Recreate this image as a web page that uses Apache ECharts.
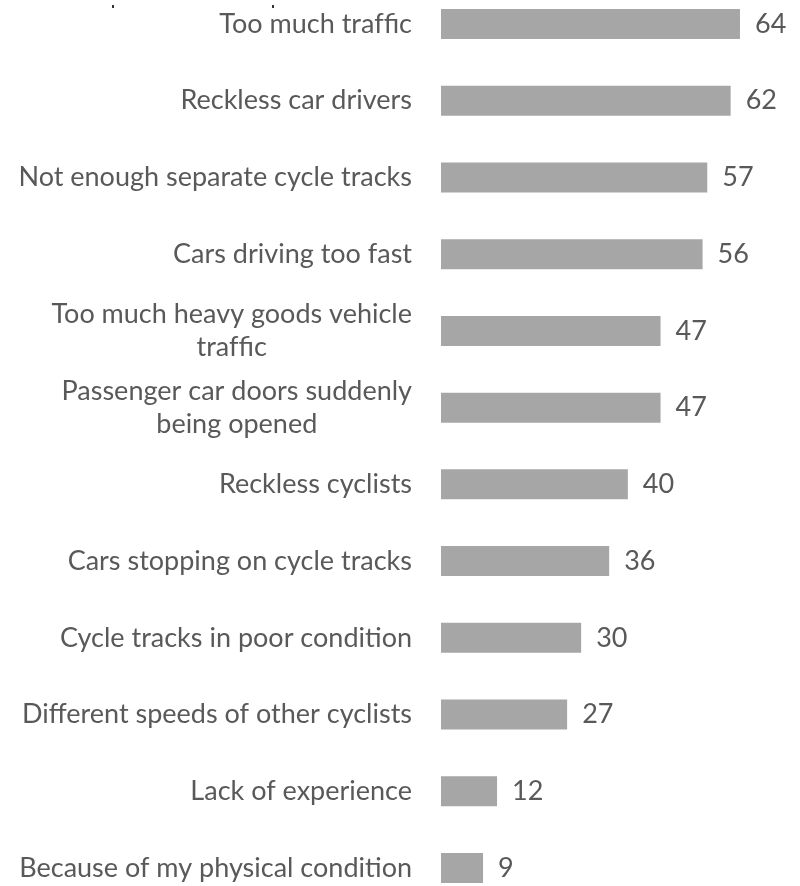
<!DOCTYPE html>
<html>
<head>
<meta charset="utf-8">
<script src="https://cdn.jsdelivr.net/npm/echarts@6/dist/echarts.min.js"></script>
<style>
  html, body { margin: 0; padding: 0; background: #ffffff; }
  #chart { width: 800px; height: 886px; }
</style>
</head>
<body>
<div id="chart"></div>
<script>
// Reasons for feeling unsafe while cycling (share of respondents)
// (a zero-width non-joiner keeps "ff"/"ffi" from turning into ligatures)
const categories = [
  'Too much traf\u200Cfic',
  'Reckless car drivers',
  'Not enough separate cycle tracks',
  'Cars driving too fast',
  'Too much heavy goods vehicle\ntraf\u200Cfic',
  'Passenger car doors suddenly\nbeing opened',
  'Reckless cyclists',
  'Cars stopping on cycle tracks',
  'Cycle tracks in poor condition',
  'Different speeds of other cyclists',
  'Lack of experience',
  'Because of my physical condition'
];
const values = [64, 62, 57, 56, 47, 47, 40, 36, 30, 27, 12, 9];

const FONT = 'Lato';
const TEXT_COLOR = '#595959';
const BAR_COLOR = '#a6a6a6';

const chart = echarts.init(document.getElementById('chart'), null, { renderer: 'canvas' });

chart.setOption({
  animation: false,
  backgroundColor: '#ffffff',
  // categories sit on the grid edges (boundaryGap false), first row at top, last at bottom
  grid: { left: 441, right: 32, top: 24, bottom: 18, containLabel: false },
  xAxis: {
    type: 'value',
    min: 0,
    max: 70,
    show: false
  },
  yAxis: {
    type: 'category',
    inverse: true,
    boundaryGap: false,
    data: categories,
    axisLine: { show: false },
    axisTick: { show: false },
    splitLine: { show: false },
    axisLabel: {
      margin: 29,
      fontFamily: FONT,
      fontSize: 27,
      color: TEXT_COLOR,
      lineHeight: 33,
      // wrapped labels are centred line by line, the block stays right-aligned
      formatter: function (v) {
        return v.split('\n').map(function (l) { return '{c|' + l + '}'; }).join('\n');
      },
      rich: {
        c: { align: 'center', fontFamily: FONT, fontSize: 27, color: TEXT_COLOR, lineHeight: 33 }
      }
    }
  },
  series: [{
    type: 'bar',
    data: values,
    barWidth: 30,
    itemStyle: { color: BAR_COLOR },
    label: {
      show: true,
      position: 'right',
      distance: 15,
      fontFamily: FONT,
      fontSize: 27,
      color: TEXT_COLOR
    }
  }],
  graphic: [
    { type: 'rect', shape: { x: 112, y: 5, width: 2, height: 3 }, style: { fill: '#333333' } },
    { type: 'rect', shape: { x: 272, y: 5, width: 2, height: 3 }, style: { fill: '#333333' } }
  ]
});
</script>
</body>
</html>
